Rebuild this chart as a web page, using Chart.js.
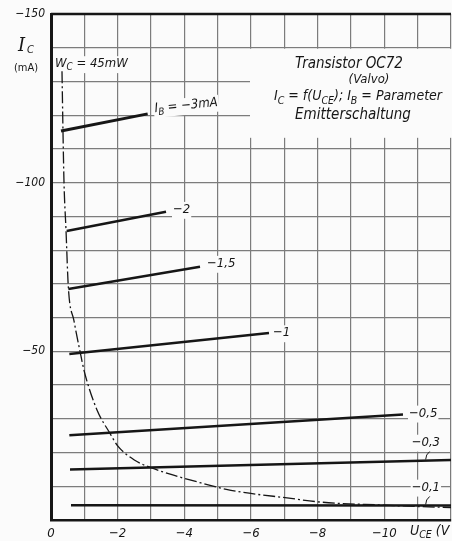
<!DOCTYPE html>
<html>
<head>
<meta charset="utf-8">
<script src="https://cdn.jsdelivr.net/npm/chart.js@4.4.1/dist/chart.umd.min.js"></script>
<style>
  html, body { margin: 0; padding: 0; background: #fbfbfb; }
  canvas { display: block; }
</style>
</head>
<body>
<canvas id="oc72_chart" width="452" height="541"></canvas>
<script>
// Ausgangskennlinien OC72 (Valvo), Emitterschaltung
// I_B lines: start / end points, U_CE in V, I_C in mA
var ibNames  = ['-3mA', '-2', '-1,5', '-1', '-0,5', '-0,3', '-0,1'];
var ibStartU = [-0.3, -0.47, -0.52, -0.55, -0.55, -0.57, -0.6];
var ibStartI = [-115.3, -85.7, -68.5, -49.2, -25.1, -15.0, -4.4];
var ibEndU   = [-2.9, -3.45, -4.47, -6.54, -10.56, -12, -12];
var ibEndI   = [-120.4, -91.4, -75.1, -55.4, -31.3, -17.8, -4.3];

// Verlustleistungshyperbel W_C = 45 mW
var wcU = [-0.33, -0.36, -0.39, -0.45, -0.52, -0.69, -0.87, -1.0, -1.38, -1.75, -2.0, -2.5, -3.0, -3.7, -4.5, -5.4, -7.2, -8.1, -10, -11, -12];
var wcI = [-133, -115, -100, -86, -69, -59, -50, -44, -32.6, -26, -22, -17.8, -15.5, -13.2, -11, -8.8, -6.4, -5.3, -4.4, -4.0, -3.7];

var xLabelTicks = [0, -2, -4, -6, -8, -10];
var yLabelTicks = [-150, -100, -50];

var FONT = "'Liberation Sans Narrow', 'DejaVu Sans Condensed', 'DejaVu Sans', sans-serif";
var INK = '#161616';
var PAPER = '#fbfbfb';

// where each I_B label sits, relative to a point on its line
var ibLabelPos = [
    {at: 'end', dx: 7, dy: -5, rot: -0.1},
    {at: 'end', dx: 7, dy: -2},
    {at: 'end', dx: 7, dy: -3},
    {at: 'end', dx: 4, dy: 0},
    {at: 'end', dx: 6, dy: -1},
    {at: -11.3, dx: -16, dy: -18, leader: true},
    {at: -11.3, dx: -16, dy: -18, leader: true}
];

function minus(s) { return String(s).replace('-', '\u2212'); }

// draw pieces of text, pieces with sub=true are subscripted
function drawParts(ctx, parts, x, y, size, align) {
    var w = 0, i;
    for (i = 0; i < parts.length; i++) {
        ctx.font = 'italic ' + (parts[i].sub ? size * 0.75 : size) + 'px ' + FONT;
        w += ctx.measureText(parts[i].t).width;
    }
    var cx = align === 'center' ? x - w / 2 : x;
    ctx.textAlign = 'left';
    ctx.textBaseline = 'middle';
    for (i = 0; i < parts.length; i++) {
        ctx.font = 'italic ' + (parts[i].sub ? size * 0.75 : size) + 'px ' + FONT;
        ctx.fillText(parts[i].t, cx, y + (parts[i].sub ? size * 0.3 : 0));
        cx += ctx.measureText(parts[i].t).width;
    }
    return {left: align === 'center' ? x - w / 2 : x, width: w};
}

function labelBox(ctx, parts, x, y, size) {
    var w = 0;
    parts.forEach(function(p) {
        ctx.font = 'italic ' + (p.sub ? size * 0.75 : size) + 'px ' + FONT;
        w += ctx.measureText(p.t).width;
    });
    ctx.fillStyle = PAPER;
    ctx.fillRect(x - 1, y - size * 0.6, w + 2, size * 1.3);
    ctx.fillStyle = INK;
    drawParts(ctx, parts, x, y, size, 'left');
}

var textPlugin = {
    id: 'oc72Text',
    beforeDraw: function(chart) {
        var c = chart.ctx;
        c.save();
        c.fillStyle = PAPER;
        c.fillRect(0, 0, chart.width, chart.height);
        c.restore();
    },
    beforeDatasetsDraw: function(chart) {
        var ctx = chart.ctx, a = chart.chartArea;
        var xs = chart.scales.x, ys = chart.scales.y;
        ctx.save();
        // frame top edge
        ctx.strokeStyle = INK;
        ctx.lineWidth = 2.5;
        ctx.beginPath();
        ctx.moveTo(a.left, a.top);
        ctx.lineTo(a.right, a.top);
        ctx.stroke();

        // title block
        var bx = xs.getPixelForValue(-6), by = ys.getPixelForValue(-140);
        var bb = ys.getPixelForValue(-113);
        ctx.fillStyle = PAPER;
        ctx.fillRect(bx - 1, by + 1, a.right - bx + 2, bb - by - 2);
        ctx.fillStyle = INK;
        var cx = (bx + a.right) / 2 + 2;
        drawParts(ctx, [{t: 'Transistor OC72'}], cx - 4, by + 16, 15, 'center');
        drawParts(ctx, [{t: '(Valvo)'}], cx + 16, by + 32, 13, 'center');
        drawParts(ctx, [{t: 'I'}, {t: 'C', sub: true}, {t: ' = f(U'}, {t: 'CE', sub: true},
            {t: '); I'}, {t: 'B', sub: true}, {t: ' = Parameter'}], cx + 5, by + 49, 14, 'center');
        drawParts(ctx, [{t: 'Emitterschaltung'}], cx, by + 67, 15, 'center');

        // W_C label
        labelBox(ctx, [{t: 'W'}, {t: 'C', sub: true}, {t: ' = 45mW'}], 55, 64, 13);
        ctx.restore();
    },
    afterDatasetsDraw: function(chart) {
        var ctx = chart.ctx;
        var xs = chart.scales.x, ys = chart.scales.y;
        ctx.save();
        for (var i = 0; i < ibNames.length; i++) {
            var p = ibLabelPos[i], u, c;
            if (p.at === 'end') {
                u = ibEndU[i]; c = ibEndI[i];
            } else {
                u = p.at;
                c = ibStartI[i] + (ibEndI[i] - ibStartI[i]) * (u - ibStartU[i]) / (ibEndU[i] - ibStartU[i]);
            }
            var px = xs.getPixelForValue(u), py = ys.getPixelForValue(c);
            var tx = px + p.dx, ty = py + p.dy;
            ctx.save();
            ctx.translate(tx, ty);
            if (p.rot) ctx.rotate(p.rot);
            var parts = i === 0
                ? [{t: 'I'}, {t: 'B', sub: true}, {t: ' = ' + minus(ibNames[i])}]
                : [{t: minus(ibNames[i])}];
            labelBox(ctx, parts, 0, 0, 13);
            ctx.restore();
            if (p.leader) {
                ctx.strokeStyle = INK;
                ctx.lineWidth = 1;
                ctx.beginPath();
                ctx.moveTo(px + 2, py - 9);
                ctx.quadraticCurveTo(px - 2, py - 6, px - 2, py - 1);
                ctx.stroke();
            }
        }

        // axis titles
        ctx.fillStyle = INK;
        ctx.textBaseline = 'middle';
        ctx.textAlign = 'left';
        ctx.font = 'italic 18px "DejaVu Serif", serif';
        ctx.fillText('I', 18, 46);
        ctx.font = 'italic 11px ' + FONT;
        ctx.fillText('C', 27, 50);
        ctx.font = '11px ' + FONT;
        ctx.textAlign = 'center';
        ctx.fillText('(mA)', 26, 68);
        drawParts(ctx, [{t: 'U'}, {t: 'CE', sub: true}, {t: ' (V'}], 410, 531, 14, 'left');
        ctx.restore();
    }
};

var datasets = [];
for (var i = 0; i < ibNames.length; i++) {
    datasets.push({
        label: 'I_B = ' + ibNames[i],
        data: [{x: ibStartU[i], y: ibStartI[i]}, {x: ibEndU[i], y: ibEndI[i]}],
        showLine: true,
        borderColor: INK,
        borderWidth: i === 0 ? 3 : 2.5,
        pointRadius: 0
    });
}
datasets.push({
    label: 'W_C = 45mW',
    data: wcU.map(function(u, k) { return {x: u, y: wcI[k]}; }),
    showLine: true,
    borderColor: INK,
    borderWidth: 1.3,
    borderDash: [12, 3, 2, 3],
    cubicInterpolationMode: 'monotone',
    pointRadius: 0
});

var ctx = document.getElementById('oc72_chart');
var chart = new Chart(ctx, {
    type: 'scatter',
    data: {datasets: datasets},
    options: {
        responsive: false,
        animation: false,
        layout: {padding: {top: 14, right: 1, left: 0, bottom: 0}},
        plugins: {legend: {display: false}, tooltip: {enabled: false}},
        scales: {
            x: {
                type: 'linear',
                min: -12, max: 0,
                reverse: true,
                afterFit: function(s) {
                    s.height = 21;
                    s.paddingLeft = 0;
                    s.paddingRight = 0;
                },
                border: {color: INK, width: 2.5},
                grid: {color: '#7c7c7c', lineWidth: 1.2, drawTicks: false},
                ticks: {
                    stepSize: 1, autoSkip: false, maxTicksLimit: 20, maxRotation: 0,
                    padding: 6, color: INK,
                    font: {family: FONT, size: 13, style: 'italic'},
                    callback: function(v) {
                        if (xLabelTicks.indexOf(v) < 0) return '';
                        return v === 0 ? '0' : minus(v);
                    }
                }
            },
            y: {
                type: 'linear',
                min: -150, max: 0,
                reverse: true,
                afterFit: function(s) { s.width = 51; },
                border: {color: INK, width: 3},
                grid: {color: '#7c7c7c', lineWidth: 1.2, drawTicks: false},
                ticks: {
                    stepSize: 10, autoSkip: false, maxTicksLimit: 20,
                    padding: 6, color: INK,
                    font: {family: FONT, size: 12, style: 'italic'},
                    callback: function(v) {
                        return yLabelTicks.indexOf(v) < 0 ? '' : minus(v);
                    }
                }
            }
        }
    },
    plugins: [textPlugin]
});
</script>
</body>
</html>
